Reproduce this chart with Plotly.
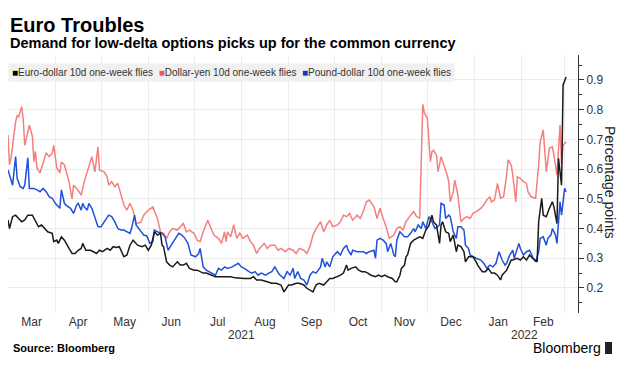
import pandas as pd
import plotly.graph_objects as go

BASE = pd.Timestamp("2021-03-01")

# Days since 2021-03-01 and values (percentage points)
red_days = [0,1,2,5,6,7,9,10,11,12,14,16,17,18,19,21,23,25,27,29,30,31,32,34,35,37,40,42,43,45,
            48,50,53,55,57,59,60,63,65,66,68,70,72,73,76,78,80,82,84,87,89,92,95,98,100,102,104,106,108,111,
            113,115,117,119,122,124,126,128,131,133,135,138,140,142,143,144,146,148,150,152,154,157,159,161,163,165,168,170,172,175,
            177,179,182,184,187,189,191,194,196,198,200,202,205,207,209,211,213,216,218,220,222,224,226,229,231,233,235,237,240,242,
            244,246,248,250,253,255,257,259,261,264,266,268,270,272,273,275,276,277,278,279,281,282,284,286,288,289,290,292,293,295,
            296,297,299,301,303,305,307,310,312,314,316,317,319,321,323,325,327,328,330,331,333,334,336,338,340,341,343,346,348,349,
            351,352,353,355,357,358,360,362,363,364,366]
red_vals = [0.715,0.614,0.637,0.76,0.78,0.776,0.81,0.765,0.68,0.70,
            0.748,0.71,0.625,0.66,0.604,0.587,0.62,0.654,0.642,0.654,
            0.68,0.637,0.604,0.587,0.624,0.614,0.558,0.50,0.546,0.535,
            0.513,0.558,0.608,0.642,0.591,0.675,0.597,0.591,0.574,0.546,
            0.558,0.541,0.552,0.535,0.479,0.462,0.485,0.462,0.417,0.42,
            0.445,0.462,0.473,0.434,0.389,0.384,0.367,0.389,0.40,0.395,
            0.406,0.417,0.389,0.395,0.384,0.361,0.356,0.389,0.428,0.40,
            0.378,0.367,0.35,0.389,0.356,0.389,0.372,0.412,0.367,0.384,
            0.367,0.378,0.356,0.344,0.316,0.333,0.35,0.333,0.344,0.344,
            0.327,0.333,0.322,0.333,0.327,0.316,0.333,0.327,0.316,0.339,
            0.378,0.40,0.423,0.389,0.412,0.428,0.406,0.412,0.423,0.445,
            0.44,0.451,0.428,0.445,0.434,0.457,0.49,0.496,0.473,0.434,
            0.468,0.434,0.406,0.367,0.378,0.40,0.406,0.395,0.423,0.445,
            0.457,0.44,0.435,0.818,0.79,0.771,0.692,0.625,0.659,0.664,
            0.647,0.591,0.642,0.614,0.58,0.558,0.49,0.524,0.563,0.513,
            0.468,0.423,0.434,0.44,0.434,0.451,0.457,0.468,0.479,0.496,
            0.507,0.49,0.496,0.552,0.502,0.507,0.58,0.631,0.614,0.58,
            0.49,0.574,0.569,0.558,0.552,0.524,0.507,0.502,0.614,0.692,
            0.732,0.659,0.591,0.67,0.675,0.647,0.58,0.748,0.614,0.68,0.692]

black_days = [0,1,3,5,7,9,11,13,16,18,
              20,22,24,26,29,30,32,33,35,37,
              40,42,44,46,48,49,51,54,56,58,
              60,62,65,67,69,71,73,76,78,80,
              82,84,85,88,90,92,94,96,98,100,
              101,102,104,106,108,111,113,115,117,119,
              122,124,126,128,130,134,136,139,142,146,
              149,152,155,159,161,163,166,170,173,176,
              179,181,183,184,186,189,191,194,196,198,
              200,202,204,207,209,211,213,216,218,220,
              222,223,225,228,230,232,234,236,238,241,
              243,245,247,249,252,254,255,257,258,260,
              261,262,264,266,268,270,272,274,276,278,
              279,281,283,284,285,287,289,290,292,294,
              295,297,299,300,302,305,307,308,311,313,
              315,317,319,321,323,324,327,328,330,331,
              334,336,338,340,342,344,347,348,350,351,
              353,355,357,358,360,361,362,363,364,366]
black_vals = [0.429,0.40,0.44,0.445,0.434,0.423,0.429,0.445,0.445,0.423,
              0.406,0.412,0.40,0.389,0.384,0.356,0.361,0.35,0.372,0.361,
              0.333,0.316,0.316,0.327,0.333,0.35,0.327,0.327,0.322,0.316,
              0.327,0.322,0.333,0.327,0.339,0.336,0.339,0.305,0.311,0.344,
              0.361,0.35,0.344,0.339,0.344,0.327,0.344,0.389,0.378,0.384,
              0.344,0.339,0.288,0.277,0.271,0.288,0.277,0.277,0.283,0.266,
              0.26,0.26,0.255,0.25,0.25,0.243,0.238,0.238,0.238,0.238,
              0.234,0.232,0.232,0.232,0.238,0.227,0.227,0.221,0.216,0.216,
              0.21,0.187,0.204,0.21,0.21,0.216,0.216,0.21,0.199,0.193,
              0.187,0.21,0.216,0.21,0.221,0.232,0.232,0.238,0.243,0.25,
              0.277,0.26,0.266,0.271,0.26,0.255,0.255,0.25,0.243,0.238,
              0.243,0.238,0.243,0.238,0.232,0.221,0.221,0.243,0.266,0.277,
              0.305,0.311,0.35,0.361,0.367,0.372,0.367,0.395,0.41,0.445,
              0.423,0.412,0.35,0.412,0.423,0.389,0.384,0.356,0.378,0.322,
              0.344,0.339,0.322,0.288,0.305,0.305,0.288,0.277,0.255,0.255,
              0.266,0.25,0.25,0.243,0.227,0.243,0.26,0.271,0.294,0.294,
              0.30,0.294,0.305,0.294,0.311,0.30,0.288,0.423,0.502,0.445,
              0.44,0.468,0.49,0.473,0.417,0.636,0.591,0.546,0.883,0.91]

blue_days = [0,1,3,5,6,8,10,11,13,14,
             17,19,21,23,25,27,29,31,34,35,
             37,38,41,43,45,46,48,49,50,52,
             53,55,57,59,61,64,66,68,70,72,
             74,76,78,80,81,83,84,87,89,91,
             93,95,96,98,100,101,103,105,107,110,
             112,114,116,118,120,123,125,126,128,130,
             132,134,136,138,140,142,144,147,149,151,
             153,155,158,160,162,164,166,169,171,173,
             175,177,178,181,183,185,187,188,190,192,
             194,196,198,200,202,205,206,208,209,211,
             213,216,218,220,222,223,225,226,229,231,
             233,235,237,240,241,242,244,246,248,249,
             251,253,254,255,257,259,260,262,264,266,
             267,269,271,272,274,276,278,280,283,284,
             286,287,289,290,292,294,295,297,299,300,
             302,303,305,307,310,312,314,316,318,320,
             322,324,326,327,329,331,332,335,336,338,
             340,342,344,346,348,349,351,353,354,356,
             357,359,360,362,363,365,366]
blue_vals = [0.597,0.58,0.546,0.642,0.569,0.541,0.535,0.546,0.638,0.535,
             0.535,0.53,0.524,0.535,0.524,0.507,0.502,0.485,0.468,0.53,
             0.485,0.479,0.468,0.451,0.479,0.485,0.462,0.485,0.473,0.462,
             0.485,0.468,0.434,0.406,0.406,0.428,0.445,0.44,0.423,0.40,
             0.395,0.395,0.389,0.384,0.40,0.445,0.412,0.389,0.378,0.375,
             0.35,0.356,0.395,0.389,0.384,0.384,0.372,0.327,0.344,0.367,
             0.384,0.378,0.367,0.35,0.311,0.305,0.316,0.333,0.271,0.26,
             0.255,0.25,0.243,0.266,0.26,0.271,0.266,0.271,0.277,0.283,
             0.271,0.266,0.255,0.25,0.255,0.243,0.25,0.243,0.25,0.255,
             0.271,0.255,0.245,0.232,0.255,0.243,0.266,0.232,0.255,0.232,
             0.227,0.21,0.243,0.255,0.25,0.271,0.30,0.271,0.288,0.271,
             0.305,0.322,0.311,0.333,0.344,0.327,0.311,0.327,0.322,0.322,
             0.322,0.316,0.322,0.327,0.30,0.361,0.367,0.361,0.35,0.322,
             0.35,0.311,0.305,0.361,0.389,0.378,0.372,0.372,0.384,0.40,
             0.389,0.412,0.40,0.423,0.40,0.44,0.423,0.40,0.412,0.485,
             0.479,0.434,0.445,0.44,0.389,0.367,0.406,0.406,0.395,0.344,
             0.333,0.311,0.305,0.30,0.294,0.283,0.266,0.277,0.271,0.283,
             0.322,0.294,0.277,0.283,0.311,0.327,0.30,0.35,0.333,0.311,
             0.322,0.327,0.305,0.288,0.322,0.367,0.372,0.344,0.367,0.378,
             0.40,0.378,0.35,0.49,0.445,0.535,0.524]

series_names = ["Euro-dollar 10d one-week flies", "Dollar-yen 10d one-week flies", "Pound-dollar 10d one-week flies"]
line_colors = {"black": "#1a1a1a", "red": "#f47f7f", "blue": "#2050d8"}
square_colors = ["#000000", "#f25a5a", "#1238d0"]
year_labels = [("2021-08-01", "2021"), ("2022-02-03", "2022")]


def to_dates(days):
    return BASE + pd.to_timedelta(days, unit="D")


fig = go.Figure()
fig.add_trace(go.Scatter(x=to_dates(red_days), y=red_vals, mode="lines", name=series_names[1],
                         line=dict(color=line_colors["red"], width=1.5)))
fig.add_trace(go.Scatter(x=to_dates(blue_days), y=blue_vals, mode="lines", name=series_names[2],
                         line=dict(color=line_colors["blue"], width=1.5)))
fig.add_trace(go.Scatter(x=to_dates(black_days), y=black_vals, mode="lines", name=series_names[0],
                         line=dict(color=line_colors["black"], width=1.5)))

W, H = 625, 376
L, R, T, B = 8, 47, 55, 63
pw, ph = W - L - R, H - T - B


def px(x):
    return (x - L) / pw


def py(y):
    return (H - B - y) / ph


FONT = "Liberation Sans, Arial, sans-serif"

legend_text = "\u00a0\u00a0".join(
    f"<span style='color:{c}'>■</span>{n}" for c, n in zip(square_colors, series_names)
)

annotations = [
    dict(text="<b>Euro Troubles</b>", x=px(8), y=py(25), xref="paper", yref="paper",
         xanchor="left", yanchor="middle", showarrow=False, font=dict(family=FONT, size=20, color="#000")),
    dict(text="<b>Demand for low-delta options picks up for the common currency</b>", x=px(8), y=py(43),
         xref="paper", yref="paper", xanchor="left", yanchor="middle", showarrow=False,
         font=dict(family=FONT, size=14.5, color="#000")),
    dict(text=legend_text, x=px(8), y=py(72), xref="paper", yref="paper", xanchor="left", yanchor="middle",
         showarrow=False, bgcolor="#f0f0f0", borderpad=3, font=dict(family=FONT, size=10, color="#333")),
    dict(text="Percentage points", x=px(610), y=py(182), xref="paper", yref="paper", textangle=90,
         xanchor="center", yanchor="middle", showarrow=False, font=dict(family=FONT, size=14, color="#222")),
    dict(text="<b>Source: Bloomberg</b>", x=px(11), y=py(348), xref="paper", yref="paper",
         xanchor="left", yanchor="middle", showarrow=False, font=dict(family=FONT, size=11, color="#000")),
    dict(text="Bloomberg", x=px(603), y=py(348), xref="paper", yref="paper",
         xanchor="right", yanchor="middle", showarrow=False, font=dict(family=FONT, size=14, color="#000")),
]
for d, t in year_labels:
    annotations.append(dict(text=t, x=d, y=py(335), xref="x", yref="paper", xanchor="center",
                            yanchor="middle", showarrow=False, font=dict(family=FONT, size=12, color="#333")))

fig.update_layout(
    width=W, height=H,
    margin=dict(l=L, r=R, t=T, b=B),
    paper_bgcolor="white", plot_bgcolor="white",
    showlegend=False,
    annotations=annotations,
    shapes=[dict(type="rect", xref="paper", yref="paper", x0=px(605), x1=px(612), y0=py(354), y1=py(342),
                 fillcolor="#222", line=dict(width=0))],
    xaxis=dict(type="date", range=["2021-03-01", "2022-03-09 19:00"], dtick="M1", tick0="2021-03-01",
               ticklabelmode="period", tickformat="%b", showgrid=True, gridcolor="#ececec", gridwidth=1,
               ticks="", showline=False, zeroline=False,
               tickfont=dict(family=FONT, size=12, color="#333")),
    yaxis=dict(side="right", range=[0.1158, 0.984], dtick=0.1, tick0=0, tickformat=".1f",
               ticks="outside", ticklen=5, tickcolor="#333", showline=True, linecolor="#333", linewidth=1,
               showgrid=True, gridcolor="#ececec", zeroline=False,
               minor=dict(dtick=0.05, tick0=0, ticks="outside", ticklen=3, tickcolor="#333", showgrid=False),
               tickfont=dict(family=FONT, size=12, color="#333")),
)

fig.write_html("out.html", config={"displayModeBar": False},
               post_script="document.body.style.margin='0px';document.body.style.overflow='hidden';")
